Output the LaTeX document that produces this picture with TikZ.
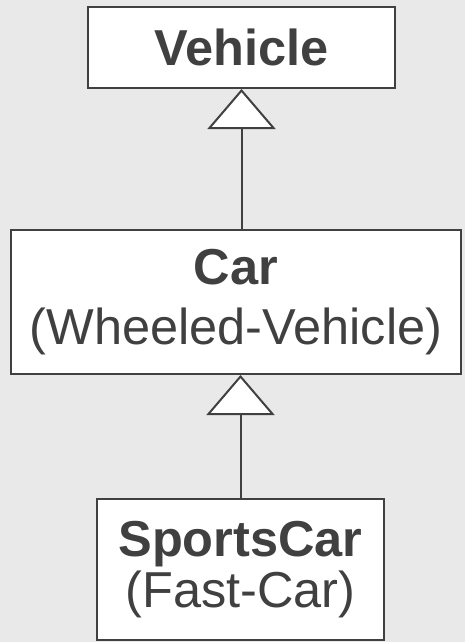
\documentclass[tikz,border=0pt]{standalone}
\usepackage{fontspec}
\setmainfont{Liberation Sans}
\usetikzlibrary{arrows.meta}
\definecolor{umlgray}{HTML}{404040}
\definecolor{umlback}{HTML}{E9E9E9}
\tikzset{
    classbox/.style={draw=umlgray, fill=white, line width=2pt, text=umlgray,
        align=center, inner sep=0pt,
        font=\fontsize{50.5}{51}\selectfont},
    inherit/.style={draw=umlgray, line width=2pt,
        -{Triangle[open, length=40pt, width=68pt, fill=white]}}
}

\begin{document}
\begin{tikzpicture}[x=1pt, y=-1pt]
    \fill[umlback] (0,0) rectangle (465,642);
    \useasboundingbox (0,0) rectangle (465,642);
    \node[classbox, minimum width=307pt, minimum height=81pt] (vehicle) at (241.5,47.5) {\textbf{Vehicle}};
    \node[classbox, minimum width=450pt, minimum height=144pt] (car) at (236,302) {\textbf{Car}\\[9pt](Wheeled-Vehicle)};
    \node[classbox, minimum width=287pt, minimum height=141pt] (sportscar) at (240.5,569.5) {\textbf{SportsCar}\\(Fast-Car)};
    \draw[inherit] (car.north -| vehicle.south) -- (vehicle.south);
    \draw[inherit] (sportscar.north) -- (sportscar.north |- car.south);
\end{tikzpicture}
\end{document}
